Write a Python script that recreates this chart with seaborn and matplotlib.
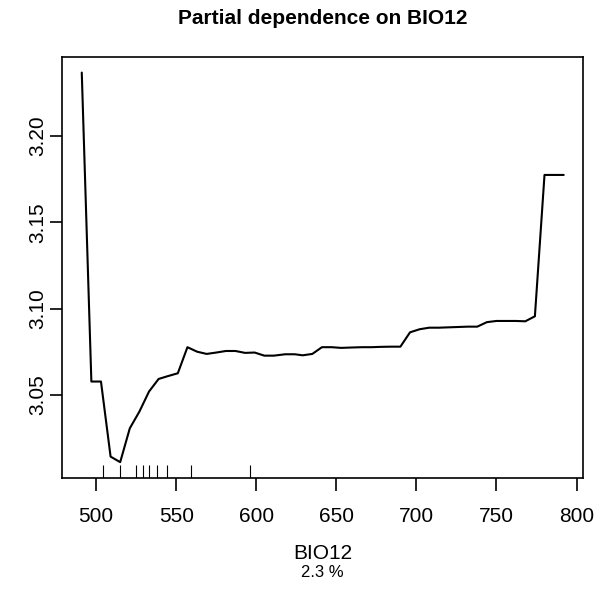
import matplotlib
matplotlib.use('Agg')
import matplotlib.pyplot as plt
import numpy as np
import pandas as pd
import seaborn as sns

sns.set_theme(style='white')
plt.rcParams['font.family'] = ['Liberation Sans', 'DejaVu Sans']
plt.rcParams['text.color'] = 'black'
plt.rcParams['axes.labelcolor'] = 'black'
plt.rcParams['xtick.color'] = 'black'
plt.rcParams['ytick.color'] = 'black'

# partial dependence curve
bio12 = [491, 497, 503, 509, 515, 521, 527, 533, 539, 545, 551, 557, 563, 569, 575,
         581, 587, 593, 599, 605, 611, 618, 624, 629, 635, 641, 647, 653, 659, 666,
         672, 678, 684, 690, 696, 702, 708, 714, 720, 726, 732, 738, 744, 750, 756,
         762, 768, 774, 780, 786, 792]
fitted = [3.2367, 3.0577, 3.0577, 3.0142, 3.0110, 3.0306, 3.0403, 3.0519, 3.0592, 3.0609,
          3.0625, 3.0776, 3.0750, 3.0737, 3.0745, 3.0754, 3.0754, 3.0743, 3.0745, 3.0727,
          3.0727, 3.0735, 3.0735, 3.0729, 3.0737, 3.0776, 3.0776, 3.0772, 3.0774, 3.0776,
          3.0776, 3.0778, 3.0779, 3.0779, 3.0862, 3.0880, 3.0889, 3.0889, 3.0891, 3.0893,
          3.0895, 3.0895, 3.0921, 3.0928, 3.0928, 3.0928, 3.0926, 3.0955, 3.1774, 3.1774,
          3.1774]
# rug marks (deciles of BIO12)
deciles = [504, 515, 525, 529, 533, 538, 544, 559.5, 596]
x_ticks = [500, 550, 600, 650, 700, 750, 800]
y_ticks = [3.05, 3.10, 3.15, 3.20]
title = 'Partial dependence on BIO12'
xlab = 'BIO12'
rel_inf = '2.3 %'

df = pd.DataFrame({'BIO12': bio12, 'fitted': fitted})

fig = plt.figure(figsize=(6.09, 5.95), dpi=100)
ax = fig.add_axes([0.1026, 0.1971, 0.8547, 0.7071])

sns.lineplot(data=df, x='BIO12', y='fitted', color='black', linewidth=1.5, ax=ax)
sns.rugplot(x=deciles, height=0.03, color='black', linewidth=0.8, ax=ax)

# R style 4% padding
xr = max(bio12) - min(bio12)
yr = max(fitted) - min(fitted)
ax.set_xlim(min(bio12) - 0.04 * xr, max(bio12) + 0.04 * xr)
ax.set_ylim(min(fitted) - 0.04 * yr, max(fitted) + 0.04 * yr)

ax.set_xticks(x_ticks)
ax.set_yticks(y_ticks)
ax.set_yticklabels(['%.2f' % v for v in y_ticks], rotation=90, va='center')
ax.tick_params(axis='both', which='major', direction='out', length=9, width=1.2,
               labelsize=15, color='black', labelcolor='black', bottom=True, left=True)
ax.tick_params(axis='x', pad=12)
ax.tick_params(axis='y', pad=2)

for s in ax.spines.values():
    s.set_visible(True)
    s.set_color('black')
    s.set_linewidth(1.2)

ax.set_xlabel(xlab, fontsize=15, labelpad=13, color='black')
ax.set_ylabel('')
ax.set_title(title, fontsize=15, fontweight='bold', pad=24, color='black')
fig.text(0.5300, 0.0378, rel_inf, fontsize=12, ha='center', va='center', color='black')

fig.savefig('out.png', dpi=100)
